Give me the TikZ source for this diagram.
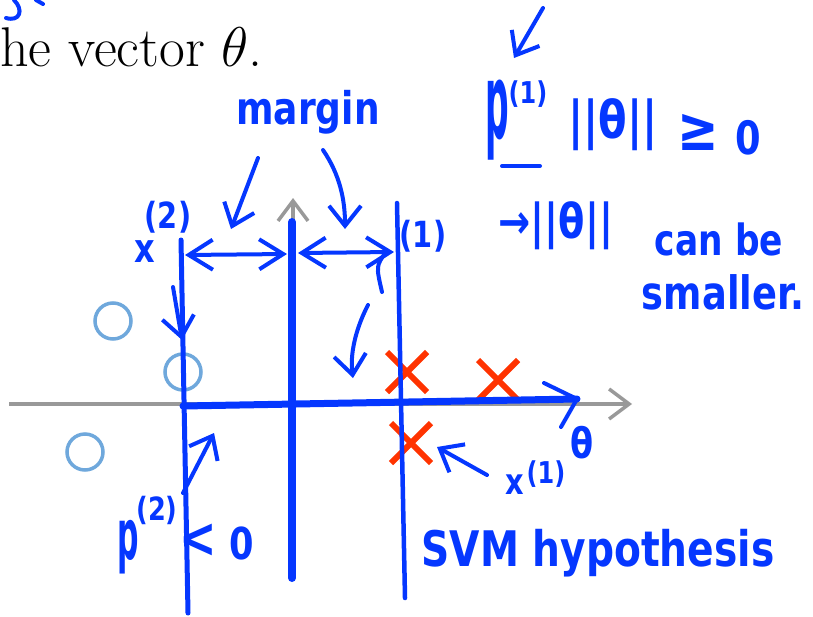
\RequirePackage{fix-cm}
\documentclass[tikz,border=0pt]{standalone}
\usepackage{fontspec}
\usepackage{graphicx}
\usetikzlibrary{arrows.meta,shapes.misc}
\newfontfamily\hwfont[FakeStretch=0.8]{DejaVu Sans}
\definecolor{hwblue}{RGB}{5,55,255}
\definecolor{ptblue}{RGB}{111,168,220}
\definecolor{xred}{RGB}{255,51,0}
\definecolor{axgray}{RGB}{153,153,153}
\tikzset{
  hw/.style={text=hwblue, inner sep=0pt, outer sep=0pt, anchor=center,
    font=\hwfont\bfseries\fontsize{#1}{#1}\selectfont},
  hw/.default=40,
  pen/.style={draw=hwblue, line width=4pt, line cap=round, line join=round},
  tip/.style={-{Straight Barb[length=20pt,width=32pt]}},
  dbl/.style={{Straight Barb[length=24pt,width=30pt]}-{Straight Barb[length=24pt,width=30pt]}},
  axis/.style={draw=axgray, line width=3.5pt, -{Straight Barb[length=20pt,width=30pt]}},
  pt/.style={circle, draw=ptblue, line width=3.5pt, minimum size=36pt, inner sep=0pt},
  crossmk/.style={cross out, draw=xred, line width=6pt, minimum size=34pt, inner sep=0pt}
}
\begin{document}
\begin{tikzpicture}[x=1pt,y=-1pt]
\useasboundingbox (0,0) rectangle (813,616);
% printed text
\node[anchor=base west, inner sep=0pt, font=\fontsize{56}{66}\selectfont] (title) at (0,66) {he vector $\theta$.};
% cut-off handwriting at top left
\coordinate (g1) at (14,0); \coordinate (g2) at (6,18);
\coordinate (g3) at (36,0); \coordinate (g4) at (43,4);
\draw[pen] (g1) .. controls (24,10) and (20,22) .. (g2);
\draw[pen] (g3) -- (g4);
% gray axes
\coordinate (hL) at (9,404); \coordinate (hR) at (632,404);
\coordinate (vB) at (293,575); \coordinate (vT) at (293,198);
\draw[axis] (hL) -- (hR);
\draw[axis] (vB) -- (vT);
% data points
\node[pt] (o1) at (113,321) {};
\node[pt] (o2) at (183,372) {};
\node[pt] (o3) at (85,452) {};
\node[crossmk] (xa) at (407,372) {};
\node[crossmk] (xb) at (498,380) {};
\node[crossmk] (xc) at (411,443) {};
% blue lines
\coordinate (aT) at (181,240); \coordinate (aB) at (188,613);
\coordinate (mT) at (292,222); \coordinate (mB) at (292,578);
\coordinate (bT) at (397,203); \coordinate (bB) at (405,598);
\draw[pen, line width=5pt] (aT) -- (aB);
\draw[pen, line width=8pt] (mT) -- (mB);
\draw[pen, line width=4.5pt] (bT) -- (bB);
\coordinate (oP) at (183,406); \coordinate (thT) at (577,399);
\coordinate (th1) at (544,383); \coordinate (th2) at (561,427);
\draw[pen, line width=7pt] (oP) -- (thT);
\draw[pen] (th1) -- (thT) -- (th2);
% margin double arrows
\coordinate (dA1) at (185,255); \coordinate (dA2) at (287,254);
\coordinate (dB1) at (298,253); \coordinate (dB2) at (394,252);
\draw[pen, dbl] (dA1) -- (dA2);
\draw[pen, dbl] (dB1) -- (dB2);
\coordinate (hk1) at (386,252); \coordinate (hk2) at (382,292);
\draw[pen] (hk1) .. controls (376,266) .. (hk2);
% margin label and arrows
\node[hw=45] (margin) at (308,112) {margin};
\coordinate (mS1) at (258,158); \coordinate (mE1) at (231,229);
\coordinate (mS2) at (323,150); \coordinate (mE2) at (345,229);
\draw[pen, tip] (mS1) -- (mE1);
\draw[pen, tip] (mS2) .. controls (340,175) and (345,200) .. (mE2);
% other arrows
\coordinate (r1) at (173,287); \coordinate (r2) at (182,340);
\draw[pen, tip] (r1) -- (r2);
\coordinate (s1) at (368,305); \coordinate (s2) at (353,378);
\draw[pen, tip] (s1) .. controls (355,330) and (350,355) .. (s2);
\coordinate (q1) at (183,493); \coordinate (q2) at (214,433);
\draw[pen, tip] (q1) -- (q2);
\coordinate (u1) at (487,475); \coordinate (u2) at (437,447);
\draw[pen, tip] (u1) -- (u2);
\coordinate (w1) at (543,8); \coordinate (w2) at (514,58);
\draw[pen, tip] (w1) -- (w2);
% labels near lines
\node[hw=40] (x2x) at (145,252) {x};
\node[hw=36] (x2s) at (168,217) {(2)};
\node[hw=36] (x1s) at (423,236) {(1)};
% top right
\node[hw=55] (p1) at (497,120) {\scalebox{0.75}[1.9]{p}};
\node[hw=30] (p1s) at (528,94) {(1)};
\coordinate (ul1) at (502,166); \coordinate (ul2) at (540,166);
\draw[pen] (ul1) -- (ul2);
\node[hw=52] (nrm) at (613,125) {||θ||};
\node[hw=62] (geq) at (698,132) {≥};
\node[hw=46] (z1) at (748,138) {0};
\node[hw=48] (imp) at (556,226) {→||θ||};
\node[hw=43] (canbe) at (719,239) {can be};
\node[hw=46] (smaller) at (723,292) {smaller.};
% bottom labels
\node[hw=42] (thl) at (582,443) {θ};
\node[hw=36] (x1x) at (515,485) {x};
\node[hw=30] (x1t) at (546,474) {(1)};
\node[hw=50] (p2) at (128,547) {\scalebox{0.75}[1.4]{p}};
\node[hw=32] (p2s) at (157,510) {(2)};
\node[hw=56] (lt) at (198,541) {<};
\node[hw=44] (z2) at (242,543) {0};
\node[hw=49] (svm) at (598,553) {SVM hypothesis};
\end{tikzpicture}
\end{document}
